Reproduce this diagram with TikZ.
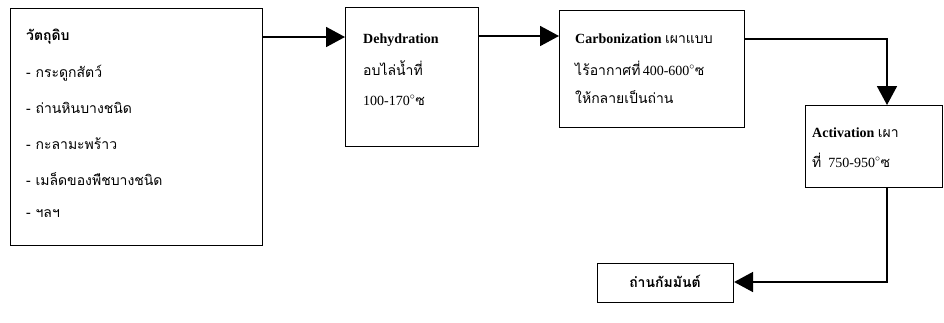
\documentclass[tikz,border=0pt]{standalone}
\usepackage{fontspec}
\setmainfont{Liberation Serif}
\newfontfamily\thai[Script=Thai]{Loma}
\usetikzlibrary{arrows.meta}
\tikzset{
  box/.style={draw, line width=1.1pt, inner sep=0pt, anchor=north west},
  txt/.style={anchor=base west, inner sep=0pt, font=\fontsize{14}{16}\selectfont},
  flow/.style={line width=1.8pt, -{Triangle[length=19pt,width=20pt]}},
}
\begin{document}
\begin{tikzpicture}[x=1pt,y=-1pt]
\useasboundingbox[fill=white] (0,0) rectangle (944,322);
% boxes
\node[box, minimum width=252pt, minimum height=237pt] (raw) at (10,8) {};
\node[box, minimum width=133pt, minimum height=139pt] (dehy) at (345,7) {};
\node[box, minimum width=185pt, minimum height=117pt] (carb) at (559,10) {};
\node[box, minimum width=137pt, minimum height=82pt] (act) at (805,105) {};
\node[box, minimum width=136pt, minimum height=39pt] (prod) at (597,263) {};
% texts box 1
\node[txt] (r0) at (26,40) {\thai\bfseries วัตถุดิบ};
\node[txt] (r1) at (26,77) {\thai - กระดูกสัตว์};
\node[txt] (r2) at (26,113) {\thai - ถ่านหินบางชนิด};
\node[txt] (r3) at (26,149) {\thai - กะลามะพร้าว};
\node[txt] (r4) at (26,185) {\thai - เมล็ดของพืชบางชนิด};
\node[txt] (r5) at (26,217) {\thai - ฯลฯ};
% box 2
\node[txt] (d0) at (363,43) {\bfseries Dehydration};
\node[txt] (d1) at (363,75) {\thai อบไล่น้ำที่};
\node[txt] (d2) at (363,105) {100-170$^{\circ}${\thai ซ}};
% box 3
\node[txt] (c0) at (575,43) {\bfseries Carbonization {\thai\mdseries เผาแบบ}};
\node[txt] (c1) at (575,75) {\thai ไร้อากาศที่\,{\rmfamily 400-600$^{\circ}$}ซ};
\node[txt] (c2) at (575,103) {\thai ให้กลายเป็นถ่าน};
% box 4
\node[txt] (a0) at (812,137) {\bfseries Activation {\thai\mdseries เผา}};
\node[txt] (a1) at (812,167) {\thai ที่ \,{\rmfamily 750-950$^{\circ}$}ซ};
% box 5
\node[anchor=base, inner sep=0pt, font=\fontsize{14}{16}\selectfont] (p0) at (665,287) {\thai\bfseries ถ่านกัมมันต์};
% connectors
\coordinate (k1) at (887,39);
\coordinate (k2) at (887,282);
\draw[flow] (raw.east |- 0,37) -- (dehy.west |- 0,37);
\draw[flow] (dehy.east |- 0,36) -- (carb.west |- 0,36);
\draw[flow] (carb.east |- k1) -- (k1) -- (act.north -| k1);
\draw[flow] (act.south -| k2) -- (k2) -- (prod.east |- k2);
\end{tikzpicture}
\end{document}
